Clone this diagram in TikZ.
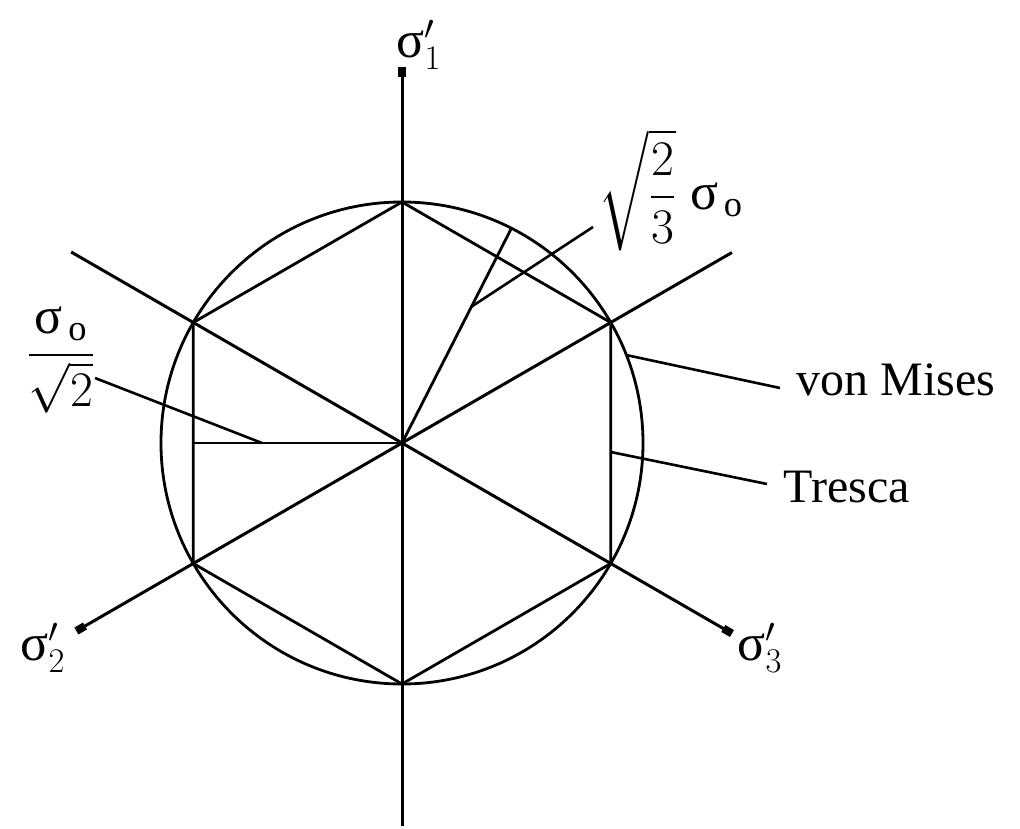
\documentclass[tikz,border=0pt]{standalone}
\usepackage{amsmath}
\usepackage{fontspec}
\setmainfont{Liberation Serif}
\usepackage{tikz}
\usetikzlibrary{arrows.meta}

\newcommand{\sg}{\text{σ}}

\begin{document}
\begin{tikzpicture}[
        x=0.5pt, y=0.5pt,
        line width=1.4pt,
        axisend/.style={line width=1.5pt, -{Rectangle[length=5pt, width=4pt]}},
        leader/.style={line width=1.3pt},
        symlabel/.style={inner sep=0pt, font=\fontsize{26}{31}\selectfont},
        namelabel/.style={inner sep=0pt, anchor=west, font=\fontsize{24}{29}\selectfont}
    ]
        \useasboundingbox (-402,-385) rectangle (618,443);

        \coordinate (O) at (0,0);
        \foreach \ang/\name in {90/v1, 30/v2, -30/v3, -90/v4, -150/v5, 150/v6}
            \coordinate (\name) at (\ang:241);

        \draw (O) circle[radius=241];
        \draw (v1) -- (v2) -- (v3) -- (v4) -- (v5) -- (v6) -- cycle;

        % principal stress axes
        \coordinate (s1top) at (90:376);
        \coordinate (s1bot) at (-90:383);
        \coordinate (s2low) at (-150:376);
        \coordinate (s2high) at (30:381);
        \coordinate (s3high) at (150:382);
        \coordinate (s3low) at (-30:381);
        \draw[axisend] (s1bot) -- (s1top);
        \draw[axisend] (s2high) -- (s2low);
        \draw[axisend] (s3high) -- (s3low);

        \coordinate (rim) at (63:241);
        \coordinate (flat) at (180:208.7);
        \draw (O) -- (rim);
        \draw (O) -- (flat);

        \node[symlabel] (s1lab) at (17,398) {$\sg'_1$};
        \node[symlabel] (s2lab) at (-359,-205) {$\sg'_2$};
        \node[symlabel] (s3lab) at (358,-205) {$\sg'_3$};

        \node[symlabel] (rimlab) at (269,253) {$\sqrt{\dfrac{2}{3}}\;\sg_{\,\text{o}}$};
        \node[symlabel] (flatlab) at (-341,83) {$\dfrac{\sg_{\,\text{o}}}{\sqrt{2}}$};
        \node[namelabel] (vm) at (393,63) {von Mises};
        \node[namelabel] (tr) at (380,-44) {Tresca};

        \coordinate (rimend) at (191,216);
        \coordinate (rimpt) at (63:153);
        \coordinate (flatend) at (-307,65);
        \coordinate (flatpt) at (-140,0);
        \coordinate (vmpt) at (21.4:241);
        \coordinate (vmend) at (378,55);
        \coordinate (trpt) at (208.7,-9);
        \coordinate (trend) at (365,-41);

        \draw[leader] (rimend) -- (rimpt);
        \draw[leader] (flatend) -- (flatpt);
        \draw[leader] (vmpt) -- (vmend);
        \draw[leader] (trpt) -- (trend);
    \end{tikzpicture}
\end{document}
